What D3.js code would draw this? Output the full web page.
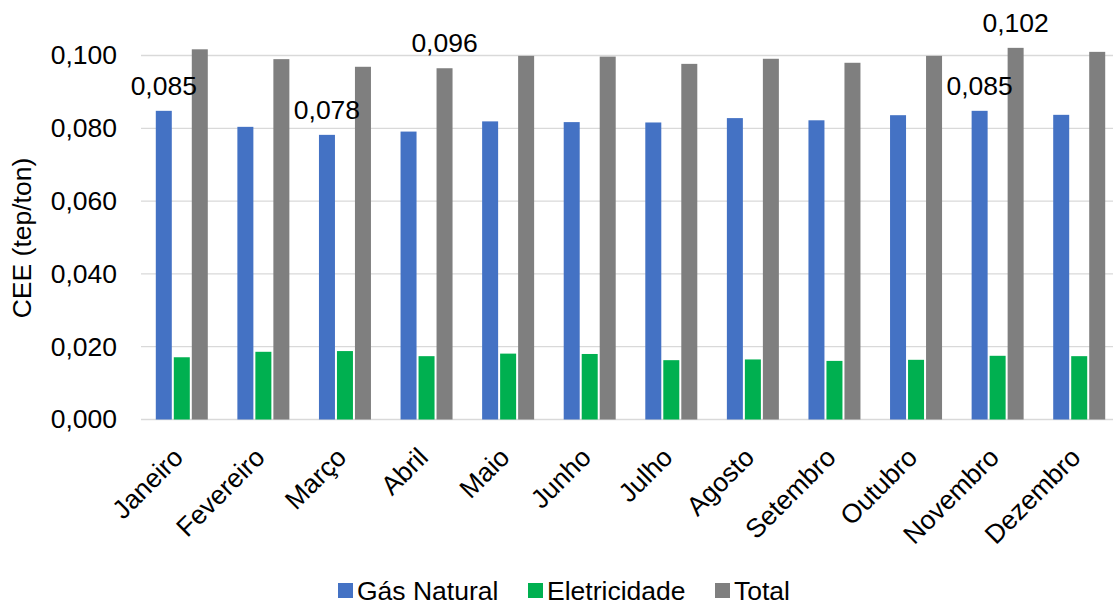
<!DOCTYPE html>
<html>
<head>
<meta charset="utf-8">
<script src="https://cdn.jsdelivr.net/npm/d3@7"></script>
<style>
html,body{margin:0;padding:0;background:#fff;}
svg{display:block;font-family:"Liberation Sans",Arial,sans-serif;}
</style>
</head>
<body>
<svg id="chart" width="1113" height="605"></svg>
<script>
const months = ["Janeiro","Fevereiro","Março","Abril","Maio","Junho","Julho","Agosto","Setembro","Outubro","Novembro","Dezembro"];
const seriesNames = ["Gás Natural","Eletricidade","Total"];
const gasNatural   = [0.0848,0.0804,0.0782,0.0791,0.0819,0.0817,0.0816,0.0828,0.0822,0.0836,0.0848,0.0837];
const eletricidade = [0.0171,0.0186,0.0188,0.0174,0.0181,0.0180,0.0163,0.0165,0.0161,0.0164,0.0175,0.0174];
const total        = [0.1017,0.0990,0.0969,0.0965,0.0999,0.0997,0.0977,0.0991,0.0980,0.0999,0.1021,0.1010];
const yTicks = [0,0.02,0.04,0.06,0.08,0.1];
// data labels shown in the original: [series index, month index, text]
const labelSeries = [0,0,2,0,2];
const labelMonths = [0,2,3,10,10];
const labelTexts  = ["0,085","0,078","0,096","0,085","0,102"];
const colors = ["#4472C4","#00B050","#7F7F7F"];

const values = [gasNatural, eletricidade, total];
const svg = d3.select("#chart");
const fs = 26.5;

const x = d3.scaleBand().domain(months).range([141, 1120]).padding(0);
const xs = d3.scaleBand().domain(seriesNames)
  .range([(x.step()-52)/2, (x.step()-52)/2 + 52]).paddingInner(2/18).paddingOuter(0);
const y = d3.scaleLinear().domain([0, 0.1]).range([419.5, 55.5]);
const fmt = v => d3.format(".3f")(v).replace(".", ",");

// gridlines
svg.append("g").selectAll("line").data(yTicks).join("line")
  .attr("x1", 141).attr("x2", 1113)
  .attr("y1", d => y(d)).attr("y2", d => y(d))
  .attr("stroke", "#d9d9d9").attr("stroke-width", 1.3);

// y axis labels
const yAxis = d3.axisLeft(y).tickValues(yTicks).tickFormat(fmt).tickSize(0).tickPadding(0);
const ya = svg.append("g").attr("transform", "translate(117,0)").call(yAxis);
ya.select(".domain").remove();
ya.selectAll("text").attr("font-size", fs).attr("fill", "#000")
  .attr("font-family", "Liberation Sans, Arial, sans-serif");

// bars
const groups = svg.append("g").selectAll("g").data(months).join("g")
  .attr("transform", d => `translate(${x(d)},0)`);
groups.selectAll("rect").data((m, i) => seriesNames.map((s, k) => ({s, k, v: values[k][i]})))
  .join("rect")
  .attr("x", d => xs(d.s)).attr("width", xs.bandwidth())
  .attr("y", d => y(d.v)).attr("height", d => y(0) - y(d.v))
  .attr("fill", d => colors[d.k]);

// x axis labels
const xAxis = d3.axisBottom(x).tickSize(0).tickPadding(0);
const xa = svg.append("g").attr("transform", "translate(0,432)").call(xAxis);
xa.select(".domain").remove();
xa.selectAll("text").attr("font-size", fs).attr("fill", "#000")
  .attr("font-family", "Liberation Sans, Arial, sans-serif")
  .attr("text-anchor", "end").attr("dy", "0")
  .attr("transform", "translate(3,27) rotate(-45)");

// data labels
svg.append("g").selectAll("text").data(labelTexts).join("text")
  .attr("x", (t, i) => x(months[labelMonths[i]]) + xs(seriesNames[labelSeries[i]]) + xs.bandwidth()/2)
  .attr("y", (t, i) => y(values[labelSeries[i]][labelMonths[i]]) - 16)
  .attr("text-anchor", "middle").attr("font-size", fs).attr("fill", "#000")
  .text(t => t);

// y title
svg.append("text").attr("transform", "translate(31,238) rotate(-90)")
  .attr("text-anchor", "middle").attr("font-size", fs).attr("fill", "#000")
  .text("CEE (tep/ton)");

// legend
const legX = [338, 528, 715];
const lg = svg.append("g").selectAll("g").data(seriesNames).join("g")
  .attr("transform", (d, i) => `translate(${legX[i]},583)`);
lg.append("rect").attr("width", 15).attr("height", 15).attr("fill", (d, i) => colors[i]);
lg.append("text").attr("x", 19).attr("y", 17).attr("font-size", fs).attr("fill", "#000").text(d => d);
</script>
</body>
</html>
